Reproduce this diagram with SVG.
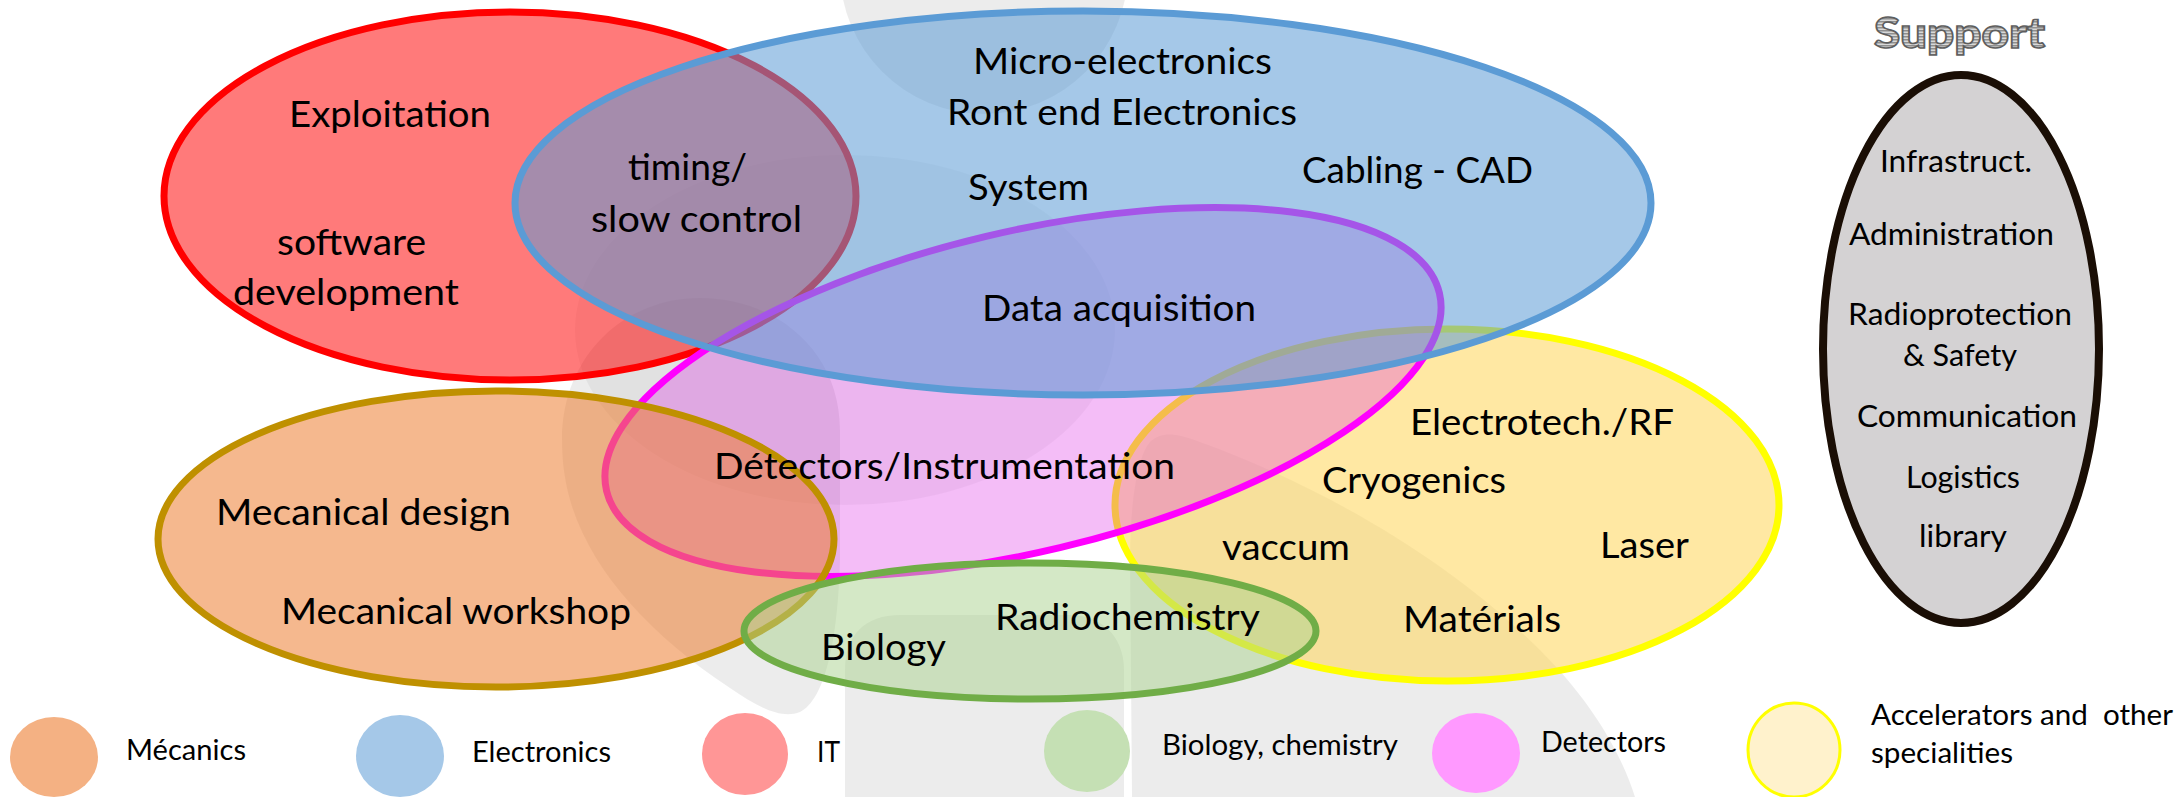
<svg xmlns="http://www.w3.org/2000/svg" width="2181" height="797" viewBox="0 0 2181 797">
  <defs>
    <pattern id="stripes" width="6" height="3" patternUnits="userSpaceOnUse">
      <rect width="6" height="3" fill="#d9d9d9"/>
      <rect width="6" height="1.5" fill="#8f8f8f"/>
    </pattern>
    <style>
      .lbl { font-family: "Lato", "Liberation Sans", sans-serif; font-size: 37.5px; fill: #000; }
      .sup { font-family: "Lato", "Liberation Sans", sans-serif; font-size: 30.5px; fill: #000; }
      .leg { font-family: "Lato", "Liberation Sans", sans-serif; font-size: 28px; fill: #000; white-space: pre; }
      .ring { stroke-width: 7; }
      .wm { fill: #000; fill-opacity: 0.075; }
    </style>
  </defs>

  <rect width="2181" height="797" fill="#ffffff"/>

  <!-- faint logo watermark behind the diagram -->
  <g id="watermark">
    <circle class="wm" cx="984" cy="-30" r="144"/>
    <ellipse cx="845" cy="330" rx="270" ry="175" fill="#000" fill-opacity="0.045"/>
    <path class="wm" d="M562,440 C562,355 625,298 700,298 C775,298 840,350 840,430 L840,560 C838,640 825,700 800,712 C780,720 755,705 730,688 C650,635 590,570 570,500 C564,478 562,460 562,440 Z"/>
    <path class="wm" d="M845,797 L845,670 C845,635 865,615 900,615 L1070,615 C1100,615 1124,635 1124,670 L1124,797 Z"/>
    <path class="wm" d="M1132,797 L1130,560 C1130,500 1138,455 1150,442 C1160,432 1175,432 1200,442 C1320,485 1450,560 1540,650 C1590,700 1620,750 1635,797 Z"/>
  </g>

  <!-- overlapping domain ellipses -->
  <g id="it">
    <ellipse class="ring" cx="510" cy="196" rx="346" ry="184" fill="#ff0000" fill-opacity="0.52" stroke="#ff0000"/>
  </g>
  <g id="accelerators">
    <ellipse class="ring" cx="1447" cy="505" rx="332" ry="176" fill="#ffd966" fill-opacity="0.6" stroke="#ffff00"/>
  </g>
  <g id="detectors">
    <ellipse class="ring" cx="0" cy="0" rx="428" ry="160" transform="translate(1023 392) rotate(-13.35)" fill="#dd33e6" fill-opacity="0.32" stroke="#ff00ff"/>
  </g>
  <g id="mecanics">
    <ellipse class="ring" cx="496" cy="539" rx="338" ry="148" fill="#ed7d31" fill-opacity="0.55" stroke="#bf9000"/>
  </g>
  <g id="electronics">
    <ellipse class="ring" cx="1083" cy="203" rx="568" ry="192" fill="#5b9bd5" fill-opacity="0.55" stroke="#5b9bd5"/>
  </g>
  <g id="biology">
    <ellipse class="ring" cx="1030" cy="631" rx="286" ry="68" fill="#a9d18e" fill-opacity="0.5" stroke="#70ad47"/>
  </g>

  <!-- support column -->
  <g id="support">
    <text x="1874" y="48" textLength="171" lengthAdjust="spacingAndGlyphs" font-family="Lato, 'Liberation Sans', sans-serif" font-weight="900" font-size="42" fill="url(#stripes)" stroke="#5e5e5e" stroke-width="1.6">Support</text>
    <ellipse cx="1961" cy="349" rx="138" ry="274" fill="#d4d2d3" stroke="#1a0e05" stroke-width="8"/>
    <text class="sup" x="1880" y="172" textLength="152" lengthAdjust="spacingAndGlyphs">Infrastruct.</text>
    <text class="sup" x="1849" y="245" textLength="205" lengthAdjust="spacingAndGlyphs">Administration</text>
    <text class="sup" x="1848" y="325" textLength="224" lengthAdjust="spacingAndGlyphs">Radioprotection</text>
    <text class="sup" x="1903" y="366" textLength="114" lengthAdjust="spacingAndGlyphs">&amp; Safety</text>
    <text class="sup" x="1857" y="427" textLength="220" lengthAdjust="spacingAndGlyphs">Communication</text>
    <text class="sup" x="1906" y="488" textLength="114" lengthAdjust="spacingAndGlyphs">Logistics</text>
    <text class="sup" x="1919" y="547" textLength="88" lengthAdjust="spacingAndGlyphs">library</text>
  </g>

  <!-- labels inside the domains -->
  <g id="labels">
    <text class="lbl" x="289" y="127" textLength="202" lengthAdjust="spacingAndGlyphs">Exploitation</text>
    <text class="lbl" x="628" y="180" textLength="119" lengthAdjust="spacingAndGlyphs">timing/</text>
    <text class="lbl" x="591" y="232" textLength="211" lengthAdjust="spacingAndGlyphs">slow control</text>
    <text class="lbl" x="277" y="255" textLength="149" lengthAdjust="spacingAndGlyphs">software</text>
    <text class="lbl" x="233" y="305" textLength="226" lengthAdjust="spacingAndGlyphs">development</text>
    <text class="lbl" x="973" y="74" textLength="299" lengthAdjust="spacingAndGlyphs">Micro-electronics</text>
    <text class="lbl" x="947" y="125" textLength="350" lengthAdjust="spacingAndGlyphs">Ront end Electronics</text>
    <text class="lbl" x="968" y="200" textLength="121" lengthAdjust="spacingAndGlyphs">System</text>
    <text class="lbl" x="1302" y="183" textLength="231" lengthAdjust="spacingAndGlyphs">Cabling - CAD</text>
    <text class="lbl" x="982" y="321" textLength="274" lengthAdjust="spacingAndGlyphs">Data acquisition</text>
    <text class="lbl" x="714" y="479" textLength="461" lengthAdjust="spacingAndGlyphs">Détectors/Instrumentation</text>
    <text class="lbl" x="216" y="525" textLength="295" lengthAdjust="spacingAndGlyphs">Mecanical design</text>
    <text class="lbl" x="281" y="624" textLength="350" lengthAdjust="spacingAndGlyphs">Mecanical workshop</text>
    <text class="lbl" x="821" y="660" textLength="125" lengthAdjust="spacingAndGlyphs">Biology</text>
    <text class="lbl" x="995" y="630" textLength="265" lengthAdjust="spacingAndGlyphs">Radiochemistry</text>
    <text class="lbl" x="1410" y="435" textLength="264" lengthAdjust="spacingAndGlyphs">Electrotech./RF</text>
    <text class="lbl" x="1322" y="493" textLength="184" lengthAdjust="spacingAndGlyphs">Cryogenics</text>
    <text class="lbl" x="1222" y="560" textLength="128" lengthAdjust="spacingAndGlyphs">vaccum</text>
    <text class="lbl" x="1600" y="558" textLength="89" lengthAdjust="spacingAndGlyphs">Laser</text>
    <text class="lbl" x="1403" y="632" textLength="158" lengthAdjust="spacingAndGlyphs">Matérials</text>
  </g>

  <!-- colour key -->
  <g id="legend">
    <ellipse cx="54" cy="757" rx="44" ry="40" fill="#f4b183"/>
    <text class="leg" x="126" y="760" textLength="120" lengthAdjust="spacingAndGlyphs">Mécanics</text>
    <ellipse cx="400" cy="756" rx="44" ry="41" fill="#a5c8e8"/>
    <text class="leg" x="472" y="762" textLength="139" lengthAdjust="spacingAndGlyphs">Electronics</text>
    <ellipse cx="745" cy="754" rx="43" ry="41" fill="#ff9696"/>
    <text class="leg" x="817" y="762" textLength="23" lengthAdjust="spacingAndGlyphs">IT</text>
    <ellipse cx="1087" cy="751" rx="43" ry="41" fill="#c5e0b4"/>
    <text class="leg" x="1162" y="755" textLength="236" lengthAdjust="spacingAndGlyphs">Biology, chemistry</text>
    <ellipse cx="1476" cy="753" rx="44" ry="40" fill="#ff99ff"/>
    <text class="leg" x="1541" y="752" textLength="125" lengthAdjust="spacingAndGlyphs">Detectors</text>
    <ellipse cx="1794" cy="750" rx="46" ry="47" fill="#fff2cc" stroke="#ffff00" stroke-width="3"/>
    <text class="leg" x="1871" y="725" textLength="302" lengthAdjust="spacingAndGlyphs">Accelerators and  other</text>
    <text class="leg" x="1871" y="763" textLength="142" lengthAdjust="spacingAndGlyphs">specialities</text>
  </g>
</svg>
